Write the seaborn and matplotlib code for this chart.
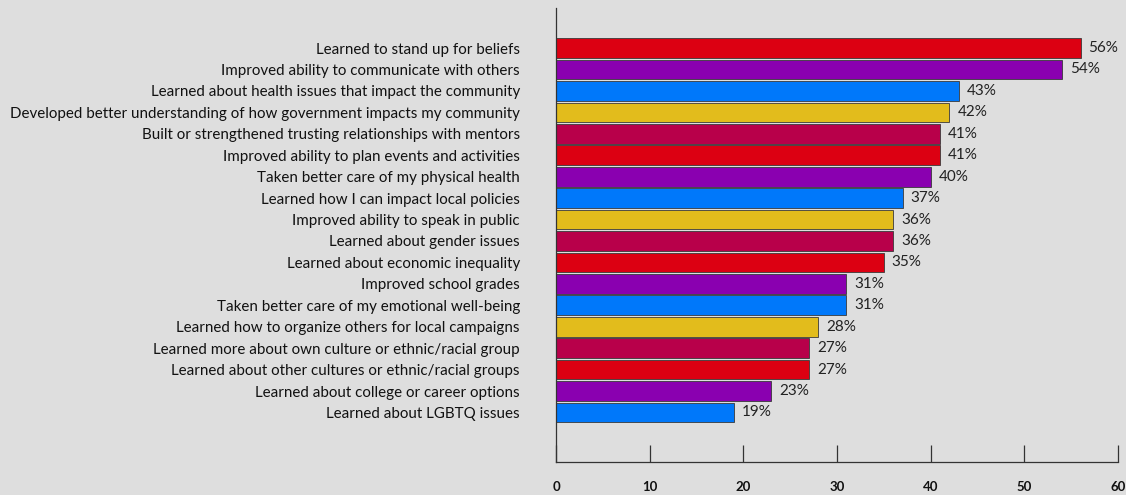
import matplotlib
matplotlib.use("Agg")
import matplotlib.pyplot as plt
import seaborn as sns
import pandas as pd

categories = [
    "Learned to stand up for beliefs",
    "Improved ability to communicate with others",
    "Learned about health issues that impact the community",
    "Developed better understanding of how government impacts my community",
    "Built or strengthened trusting relationships with mentors",
    "Improved ability to plan events and activities",
    "Taken better care of my physical health",
    "Learned how I can impact local policies",
    "Improved ability to speak in public",
    "Learned about gender issues",
    "Learned about economic inequality",
    "Improved school grades",
    "Taken better care of my emotional well-being",
    "Learned how to organize others for local campaigns",
    "Learned more about own culture or ethnic/racial group",
    "Learned about other cultures or ethnic/racial groups",
    "Learned about college or career options",
    "Learned about LGBTQ issues",
]
values = [56, 54, 43, 42, 41, 41, 40, 37, 36, 36, 35, 31, 31, 28, 27, 27, 23, 19]
cycle_colors = ["#dc0012", "#8a00b0", "#0078fa", "#e2bc1c", "#b8004a"]
bar_colors = [cycle_colors[i % 5] for i in range(len(categories))]
x_ticks = [0, 10, 20, 30, 40, 50, 60]

df = pd.DataFrame({"category": categories, "value": values})

sns.set_theme(style="white")
bg = "#dedede"
plt.rcParams["font.family"] = ["Lato", "DejaVu Sans"]

fig = plt.figure(figsize=(11.26, 4.95), dpi=100, facecolor=bg)
ax = fig.add_axes([0.4938, 0.0667, 0.4991, 0.9172])
ax.set_facecolor(bg)

sns.barplot(data=df, x="value", y="category", hue="category",
            palette=bar_colors, legend=False, ax=ax, width=0.92,
            edgecolor="#3a3a3a", linewidth=0.6, saturation=1)

for i, v in enumerate(values):
    ax.text(v + 0.85, i, f"{v}%", va="center", ha="left", fontsize=11, color="#222222")

ax.set_xlim(0, 60)
ax.set_ylim(19.31, -1.87)
ax.set_xticks(x_ticks)
ax.set_xticklabels([str(t) for t in x_ticks], fontweight="bold", fontsize=9.5, color="#111111")
ax.tick_params(axis="x", direction="in", length=12, width=0.9, color="#333333", pad=14, bottom=True)
ax.tick_params(axis="y", length=0, pad=26, labelsize=10.9, labelcolor="#111111")
ax.set_xlabel("")
ax.set_ylabel("")
for s in ["top", "right"]:
    ax.spines[s].set_visible(False)
for s in ["left", "bottom"]:
    ax.spines[s].set_color("#333333")
    ax.spines[s].set_linewidth(0.9)

fig.savefig("out.png", dpi=100, facecolor=bg)
